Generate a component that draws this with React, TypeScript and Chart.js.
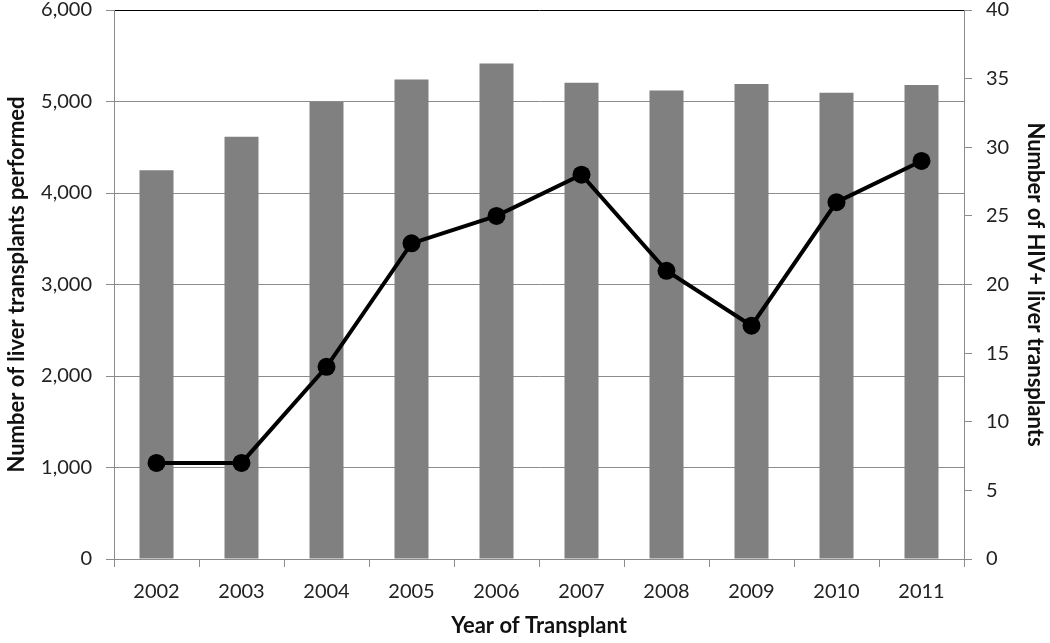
import React, { useEffect, useRef } from "react";
import { Chart, registerables } from "chart.js";

Chart.register(...registerables);

const years = ["2002", "2003", "2004", "2005", "2006", "2007", "2008", "2009", "2010", "2011"];
const liverTransplants = [4250, 4615, 4995, 5240, 5415, 5205, 5120, 5190, 5095, 5180];
const hivTransplants = [7, 7, 14, 23, 25, 28, 21, 17, 26, 29];

const FONT = "Lato, 'Open Sans', sans-serif";
const GRID = "#8c8c8c";

export default function App() {
  const ref = useRef<HTMLCanvasElement | null>(null);

  useEffect(() => {
    document.body.style.margin = "0";
    const canvas = ref.current;
    if (!canvas) return;
    const chart = new Chart(canvas, {
      type: "bar",
      data: {
        labels: years,
        datasets: [
          {
            type: "line",
            label: "HIV+ liver transplants",
            data: hivTransplants,
            yAxisID: "y1",
            borderColor: "#000000",
            backgroundColor: "#000000",
            borderWidth: 4,
            pointRadius: 9,
            pointBackgroundColor: "#000000",
            pointBorderColor: "#000000",
            pointBorderWidth: 0,
            tension: 0,
            order: 0,
          } as any,
          {
            type: "bar",
            label: "Liver transplants",
            data: liverTransplants,
            yAxisID: "y",
            backgroundColor: "#808080",
            borderWidth: 0,
            barPercentage: 0.4,
            categoryPercentage: 1,
            order: 1,
          },
        ],
      },
      options: {
        responsive: false,
        animation: false,
        layout: { padding: { top: 0, left: 0, right: 0, bottom: 0 } },
        plugins: {
          legend: { display: false },
          tooltip: { enabled: false },
        },
        scales: {
          x: {
            grid: {
              display: true,
              offset: true,
              drawOnChartArea: false,
              tickLength: 8,
              color: GRID,
            },
            border: { display: true, color: GRID },
            ticks: {
              color: "#222",
              font: { family: FONT, size: 20 },
              padding: 13,
            },
            title: {
              display: true,
              text: "Year of Transplant",
              color: "#111",
              font: { family: FONT, size: 22, weight: "bold" },
              padding: { top: 0, bottom: 4 },
            },
            afterFit: (s: any) => {
              s.height = 84;
            },
          },
          y: {
            position: "left",
            min: 0,
            max: 6000,
            ticks: {
              stepSize: 1000,
              color: "#222",
              font: { family: FONT, size: 20, lineHeight: 1.0 },
              padding: 14,
              callback: (v: any) => Number(v).toLocaleString("en-US"),
            },
            grid: {
              color: (ctx: any) => (ctx.tick && ctx.tick.value === 6000 ? "#000000" : GRID),
              tickColor: GRID,
              tickLength: 8,
              lineWidth: 1,
            },
            border: { display: true, color: GRID },
            title: {
              display: true,
              text: "Number of liver transplants performed",
              color: "#111",
              font: { family: FONT, size: 22, weight: "bold" },
              padding: { top: 4, bottom: 0 },
            },
            afterFit: (s: any) => {
              s.width = 114;
              s.paddingTop = 10;
              s.paddingBottom = 10;
            },
          },
          y1: {
            position: "right",
            min: 0,
            max: 40,
            ticks: {
              stepSize: 5,
              color: "#222",
              font: { family: FONT, size: 20, lineHeight: 1.0 },
              padding: 14,
            },
            grid: {
              drawOnChartArea: false,
              color: GRID,
              tickLength: 8,
            },
            border: { display: true, color: GRID },
            title: {
              display: true,
              text: "Number of HIV+ liver transplants",
              color: "#111",
              font: { family: FONT, size: 22, weight: "bold" },
              padding: { top: 2, bottom: 0 },
            },
            afterFit: (s: any) => {
              s.width = 86;
              s.paddingTop = 10;
              s.paddingBottom = 10;
            },
          },
        },
      },
    });
    return () => chart.destroy();
  }, []);

  return (
    <div style={{ width: 1050, height: 643, background: "#fff" }}>
      <canvas ref={ref} width={1050} height={643} style={{ display: "block" }} />
    </div>
  );
}
